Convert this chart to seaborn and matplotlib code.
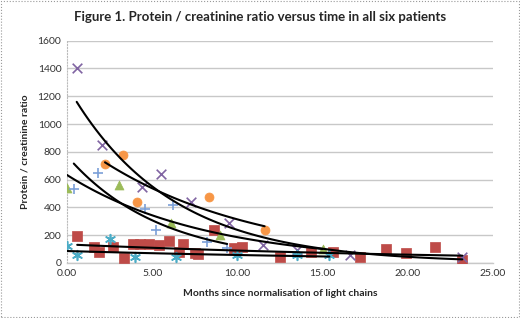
import numpy as np
import pandas as pd
import matplotlib
matplotlib.use('Agg')
import matplotlib.pyplot as plt
import seaborn as sns
from matplotlib.patches import Rectangle

sns.set_style('white')
plt.rcParams['font.family'] = ['Lato', 'DejaVu Sans']

# values (months, protein / creatinine ratio)
red_x = [0.6, 1.6, 1.9, 2.7, 3.35, 3.85, 4.3, 4.8, 5.4, 6.0, 6.6, 6.8, 7.5, 7.7,
         8.6, 9.8, 10.3, 12.5, 14.3, 15.6, 17.2, 18.7, 19.9, 21.6, 23.2]
red_y = [195, 115, 80, 115, 35, 140, 140, 140, 130, 155, 80, 135, 75, 65,
         240, 105, 115, 45, 80, 80, 40, 98, 75, 113, 20]
green_x = [0.0, 3.05, 6.1, 9.0, 15.0]
green_y = [540, 560, 290, 200, 100]
purple_x = [0.57, 2.03, 4.4, 5.5, 7.3, 9.5, 11.5, 13.5, 16.6, 23.2]
purple_y = [1400, 850, 550, 640, 440, 290, 130, 95, 60, 40]
cyan_x = [0.0, 0.6, 2.5, 4.0, 6.4, 10.0, 13.5, 15.4]
cyan_y = [120, 60, 170, 45, 40, 55, 55, 55]
orange_x = [2.23, 3.27, 4.13, 8.35, 11.6]
orange_y = [715, 780, 440, 477, 235]
plus_x = [0.4, 1.8, 4.6, 5.2, 6.2, 8.2, 9.4]
plus_y = [535, 645, 390, 240, 420, 150, 110]

patients = [
    (red_x, red_y, 's', '#BE4B48'),
    (green_x, green_y, '^', '#9BBB59'),
    (purple_x, purple_y, 'x', '#8064A2'),
    (cyan_x, cyan_y, (6, 2, 0), '#4BACC6'),
    (orange_x, orange_y, 'o', '#F79646'),
    (plus_x, plus_y, '+', '#7BA0D8'),
]

fig = plt.figure(figsize=(5.2, 3.18), dpi=100)
ax = fig.add_axes([0.1288, 0.173, 0.8192, 0.699])

for xs, ys, mk, col in patients:
    df = pd.DataFrame({'x': xs, 'y': ys})
    filled = mk in ('s', '^', 'o')
    sns.scatterplot(data=df, x='x', y='y', marker=mk, s=42 if filled else 48,
                    color=col, edgecolor=col if filled else None,
                    linewidth=0.5 if filled else 1.2, ax=ax, zorder=3)

# exponential trend lines, fitted like Excel does (ln y linear in x)
for xs, ys, mk, col in patients:
    b, lna = np.polyfit(xs, np.log(ys), 1)
    xx = np.linspace(min(xs), max(xs), 100)
    fit = pd.DataFrame({'x': xx, 'y': np.exp(lna + b * xx)})
    sns.lineplot(data=fit, x='x', y='y', color='black', linewidth=1.5, ax=ax, zorder=4)

ax.set_xlim(0, 25)
ax.set_ylim(0, 1600)
ax.set_xticks(np.arange(0, 26, 5))
ax.set_xticklabels([f'{v:.2f}' for v in np.arange(0, 26, 5)])
ax.set_yticks(np.arange(0, 1601, 200))
ax.tick_params(axis='both', labelsize=7.5, length=0, colors='#333333', pad=4)
ax.yaxis.grid(True, color='#C8C8C8', linewidth=1)
ax.xaxis.grid(False)
for side in ['right', 'top']:
    ax.spines[side].set_visible(False)
ax.spines['left'].set_color('#BBBBBB')
ax.spines['left'].set_linestyle(':')
ax.spines['left'].set_linewidth(0.8)
ax.spines['bottom'].set_color('#C8C8C8')
ax.spines['bottom'].set_linewidth(1)

ax.set_xlabel('Months since normalisation of light chains', fontsize=7.5,
              fontweight='bold', labelpad=8)
ax.set_ylabel('Protein / creatinine ratio', fontsize=7.5, fontweight='bold', labelpad=6)
fig.text(0.5, 0.945, 'Figure 1. Protein / creatinine ratio versus time in all six patients',
         ha='center', va='center', fontsize=9.5, fontweight='bold')

fig.patches.append(Rectangle((0.002, 0.003), 0.996, 0.994, transform=fig.transFigure,
                             fill=False, edgecolor='#999999', linestyle=':', linewidth=0.8))

fig.savefig('out.png', dpi=100)
